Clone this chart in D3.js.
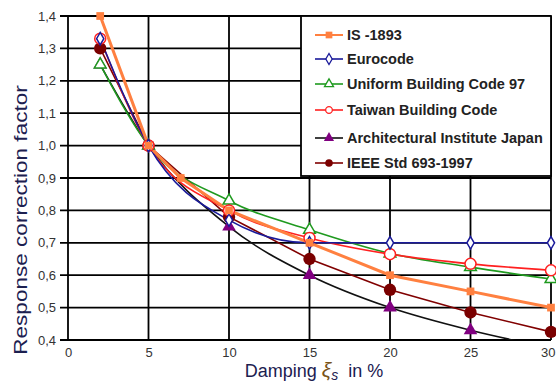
<!DOCTYPE html>
<html>
<head>
<meta charset="utf-8">
<script src="https://cdn.jsdelivr.net/npm/d3@7"></script>
<style>
  body { margin: 0; background: #fff; }
  svg { display: block; }
</style>
</head>
<body>
<svg id="chart" width="556" height="382"></svg>
<script>
// ---- data ----
const xTicks = [0, 5, 10, 15, 20, 25, 30];
const yTicks = [0.4, 0.5, 0.6, 0.7, 0.8, 0.9, 1.0, 1.1, 1.2, 1.3, 1.4];

const isDamp   = [2, 5, 7, 10, 15, 20, 25, 30];
const isVals   = [1.4, 1.0, 0.9, 0.8, 0.7, 0.6, 0.55, 0.5];

const stdDamp  = [2, 5, 10, 15, 20, 25, 30];
const euroVals = [1.33, 1.0, 0.77, 0.70, 0.70, 0.70, 0.70];
const ubcVals  = [1.25, 1.0, 0.83, 0.74, 0.667, 0.625, 0.588];
const twVals   = [1.33, 1.0, 0.80, 0.715, 0.665, 0.635, 0.615];
const aijVals  = [1.25, 1.0, 0.75, 0.60, 0.50, 0.43, 0.375];
const ieeeVals = [1.30, 1.0, 0.78, 0.65, 0.555, 0.485, 0.425];

const seriesNames = ["IS -1893", "Eurocode", "Uniform Building Code 97",
                     "Taiwan Building Code", "Architectural Institute Japan", "IEEE Std 693-1997"];

const series = [
  {name: seriesNames[0], x: isDamp,  y: isVals,   line: "#ff8040", mark: "#ff8040", sym: "square",   fill: true,  lw: 3,   curve: d3.curveLinear},
  {name: seriesNames[1], x: stdDamp, y: euroVals, line: "#1a1a9a", mark: "#1a1a9a", sym: "diamond",  fill: false, lw: 1.6, curve: d3.curveMonotoneX},
  {name: seriesNames[2], x: stdDamp, y: ubcVals,  line: "#1f9a1f", mark: "#1f9a1f", sym: "triangle", fill: false, lw: 1.6, curve: d3.curveMonotoneX},
  {name: seriesNames[3], x: stdDamp, y: twVals,   line: "#ff2020", mark: "#ff2020", sym: "circle",   fill: false, lw: 1.6, curve: d3.curveMonotoneX},
  {name: seriesNames[4], x: stdDamp, y: aijVals,  line: "#111111", mark: "#800080", sym: "triangle", fill: true,  lw: 1.6, curve: d3.curveMonotoneX},
  {name: seriesNames[5], x: stdDamp, y: ieeeVals, line: "#800000", mark: "#7a0000", sym: "circle",   fill: true,  lw: 1.6, curve: d3.curveLinear}
];

// ---- layout ----
const svg = d3.select("#chart");
const L = 68, R = 551, T = 16, B = 340;
const x = d3.scaleLinear().domain([0, 30]).range([L, R]);
const y = d3.scaleLinear().domain([0.4, 1.4]).range([B, T]);
const fmt = d => d3.format(".1f")(d).replace(".", ",");

svg.append("defs").append("clipPath").attr("id", "clip")
  .append("rect").attr("x", L).attr("y", T).attr("width", R - L).attr("height", B - T);

// grid
const grid = svg.append("g");
grid.selectAll("line.h").data(yTicks).join("line")
  .attr("x1", L - 8).attr("x2", R).attr("y1", d => y(d)).attr("y2", d => y(d))
  .attr("stroke", "#000").attr("stroke-width", 1.8);
grid.selectAll("line.v").data(xTicks).join("line")
  .attr("x1", d => x(d)).attr("x2", d => x(d)).attr("y1", T).attr("y2", B)
  .attr("stroke", "#000").attr("stroke-width", 1.8);

// axes labels via d3 axes (text only)
const yAxis = svg.append("g").attr("transform", `translate(${L - 10},0)`)
  .call(d3.axisLeft(y).tickValues(yTicks).tickFormat(fmt).tickSize(0).tickPadding(2));
const xAxis = svg.append("g").attr("transform", `translate(0,${B + 6})`)
  .call(d3.axisBottom(x).tickValues(xTicks).tickFormat(d3.format("d")).tickSize(0).tickPadding(2));
[yAxis, xAxis].forEach(a => {
  a.select(".domain").remove();
  a.selectAll("text").attr("font-family", "Liberation Sans, Arial, sans-serif")
    .attr("font-size", 13).attr("fill", "#333");
});
// keep the last x label inside the picture
xAxis.selectAll(".tick").filter(d => d === 30).select("text")
  .attr("text-anchor", "end").attr("x", 555 - x(30));

// symbols
const symType = {square: d3.symbolSquare, diamond: d3.symbolDiamond, triangle: d3.symbolTriangle, circle: d3.symbolCircle};
function symSize(s) {
  if (s.sym === "square") return 60;
  if (s.sym === "diamond") return 45;
  if (s.sym === "triangle") return s.fill ? 80 : 60;
  if (s.sym === "circle") return s.fill ? 120 : 95;
  return 50;
}

const plot = svg.append("g").attr("clip-path", "url(#clip)");
const drawOrder = [4, 5, 2, 3, 1, 0];
drawOrder.forEach(i => {
  const s = series[i];
  const pts = s.x.map((d, j) => [d, s.y[j]]);
  plot.append("path")
    .attr("d", d3.line().x(d => x(d[0])).y(d => y(d[1])).curve(s.curve)(pts))
    .attr("fill", "none").attr("stroke", s.line).attr("stroke-width", s.lw);
});
const marks = svg.append("g");
drawOrder.forEach(i => {
  const s = series[i];
  const pts = s.x.map((d, j) => [d, s.y[j]]).filter(p => p[1] >= 0.4);
  marks.selectAll(null).data(pts).join("path")
    .attr("transform", d => `translate(${x(d[0])},${y(d[1])})`)
    .attr("d", d3.symbol().type(symType[s.sym]).size(symSize(s)))
    .attr("fill", s.fill ? s.mark : "#fff")
    .attr("stroke", s.mark).attr("stroke-width", s.fill ? 0 : 1.5);
});

// legend
const lg = svg.append("g");
lg.append("rect").attr("x", 301).attr("y", T).attr("width", R - 301).attr("height", 176 - T)
  .attr("fill", "#fff").attr("stroke", "#000").attr("stroke-width", 1.8);
const ly = [35, 59, 84, 110, 138, 163];
series.forEach((s, i) => {
  const g = lg.append("g").attr("transform", `translate(0,${ly[i]})`);
  g.append("line").attr("x1", 315).attr("x2", 343).attr("y1", 0).attr("y2", 0)
    .attr("stroke", s.line).attr("stroke-width", i === 0 ? 2 : 1.6);
  g.append("path").attr("transform", "translate(329,0)")
    .attr("d", d3.symbol().type(symType[s.sym]).size(s.fill ? 45 : 35))
    .attr("fill", s.fill ? s.mark : "#fff").attr("stroke", s.mark).attr("stroke-width", s.fill ? 0 : 1.3);
  g.append("text").attr("x", 347).attr("y", 5).text(s.name)
    .attr("font-family", "Liberation Sans, Arial, sans-serif").attr("font-weight", "bold")
    .attr("font-size", 14.5).attr("fill", "#222");
});

// axis titles
const titleColor = "#1c2050";
svg.append("text")
  .attr("transform", `translate(27,220) rotate(-90) scale(1.22,1)`)
  .attr("text-anchor", "middle")
  .attr("font-family", "Liberation Sans, Arial, sans-serif").attr("font-size", 18.5)
  .attr("fill", titleColor).text("Response correction factor");

const xt = svg.append("text")
  .attr("x", 314).attr("y", 377).attr("text-anchor", "middle")
  .attr("font-family", "Liberation Sans, Arial, sans-serif").attr("font-size", 18)
  .attr("fill", titleColor);
xt.append("tspan").text("Damping ");
xt.append("tspan").attr("font-style", "italic").attr("font-size", 21).attr("fill", "#7a5418").text("ξ");
xt.append("tspan").attr("font-style", "italic").attr("font-size", 14).attr("dy", 3).text("s");
xt.append("tspan").attr("dy", -3).attr("xml:space", "preserve").text("  in %");
</script>
</body>
</html>
